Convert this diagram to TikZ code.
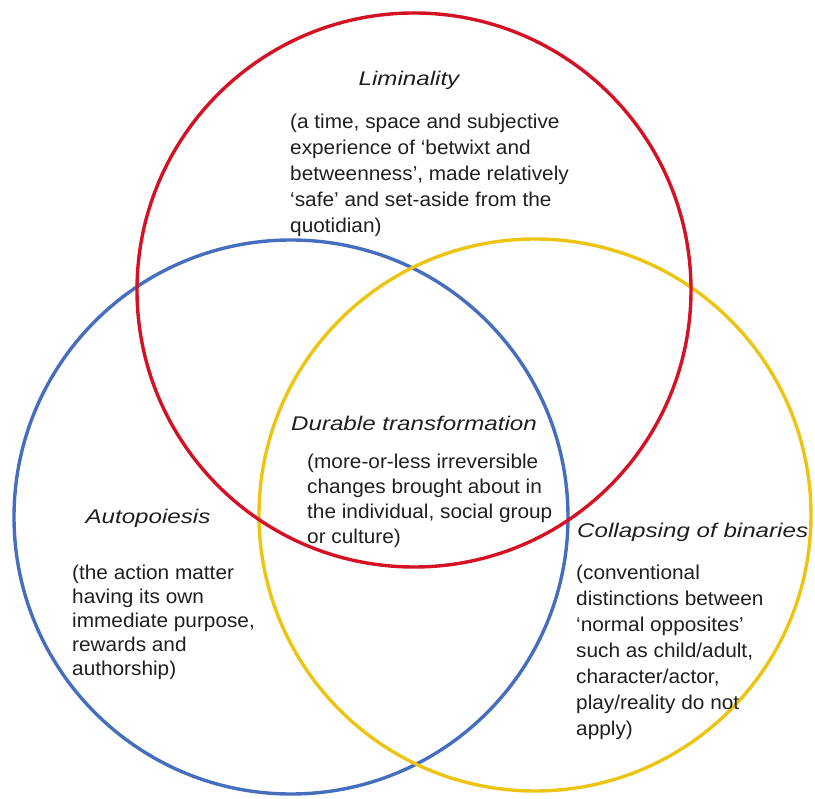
\documentclass[tikz,border=0pt]{standalone}
\usepackage{fontspec}
\setmainfont{Liberation Sans}
\newfontfamily\vennhead{Liberation Sans}[FakeStretch=1.22]
\newfontfamily\vennbody{Liberation Sans}[FakeStretch=1.04]
\begin{document}
\begin{tikzpicture}[x=1pt,y=-1pt,
  ring/.style={line width=3.4pt},
  heading/.style={font=\vennhead\fontsize{19.8}{24}\selectfont\itshape, text=black!88, inner sep=0pt},
  body/.style={font=\vennbody\fontsize{20}{26}\selectfont, text=black!88, align=left, inner sep=0pt, anchor=north west}]
  \definecolor{vennred}{RGB}{212,18,36}
  \definecolor{vennblue}{RGB}{70,110,190}
  \definecolor{vennyellow}{RGB}{238,196,18}
  \useasboundingbox (0,0) rectangle (815,799);

  % the three overlapping sets
  \draw[ring, vennblue] (291,517) circle (277);
  \draw[ring, vennyellow] (535,515) circle (276);
  \draw[ring, vennred] (414,290) circle (277);

  % Liminality
  \node[heading] (limT) at (409,80) {Liminality};
  \node[body] (limB) at (290,114) {(a time, space and subjective\\experience of ‘betwixt and\\betweenness’, made relatively\\‘safe’ and set-aside from the\\quotidian)};

  % Durable transformation
  \node[heading] (durT) at (414,423) {Durable transformation};
  \node[body, font=\vennbody\fontsize{20}{25}\selectfont] (durB) at (307,454) {(more-or-less irreversible\\changes brought about in\\the individual, social group\\or culture)};

  % Autopoiesis
  \node[heading] (autT) at (148,518) {Autopoiesis};
  \node[body, font=\vennbody\fontsize{20}{24}\selectfont] (autB) at (72,565) {(the action matter\\having its own\\immediate purpose,\\rewards and\\authorship)};

  % Collapsing of binaries
  \node[heading, anchor=west] (colT) at (577,532) {Collapsing of binaries};
  \node[body] (colB) at (576,565) {(conventional\\distinctions between\\‘normal opposites’\\such as child/adult,\\character/actor,\\play/reality do not\\apply)};
\end{tikzpicture}
\end{document}
